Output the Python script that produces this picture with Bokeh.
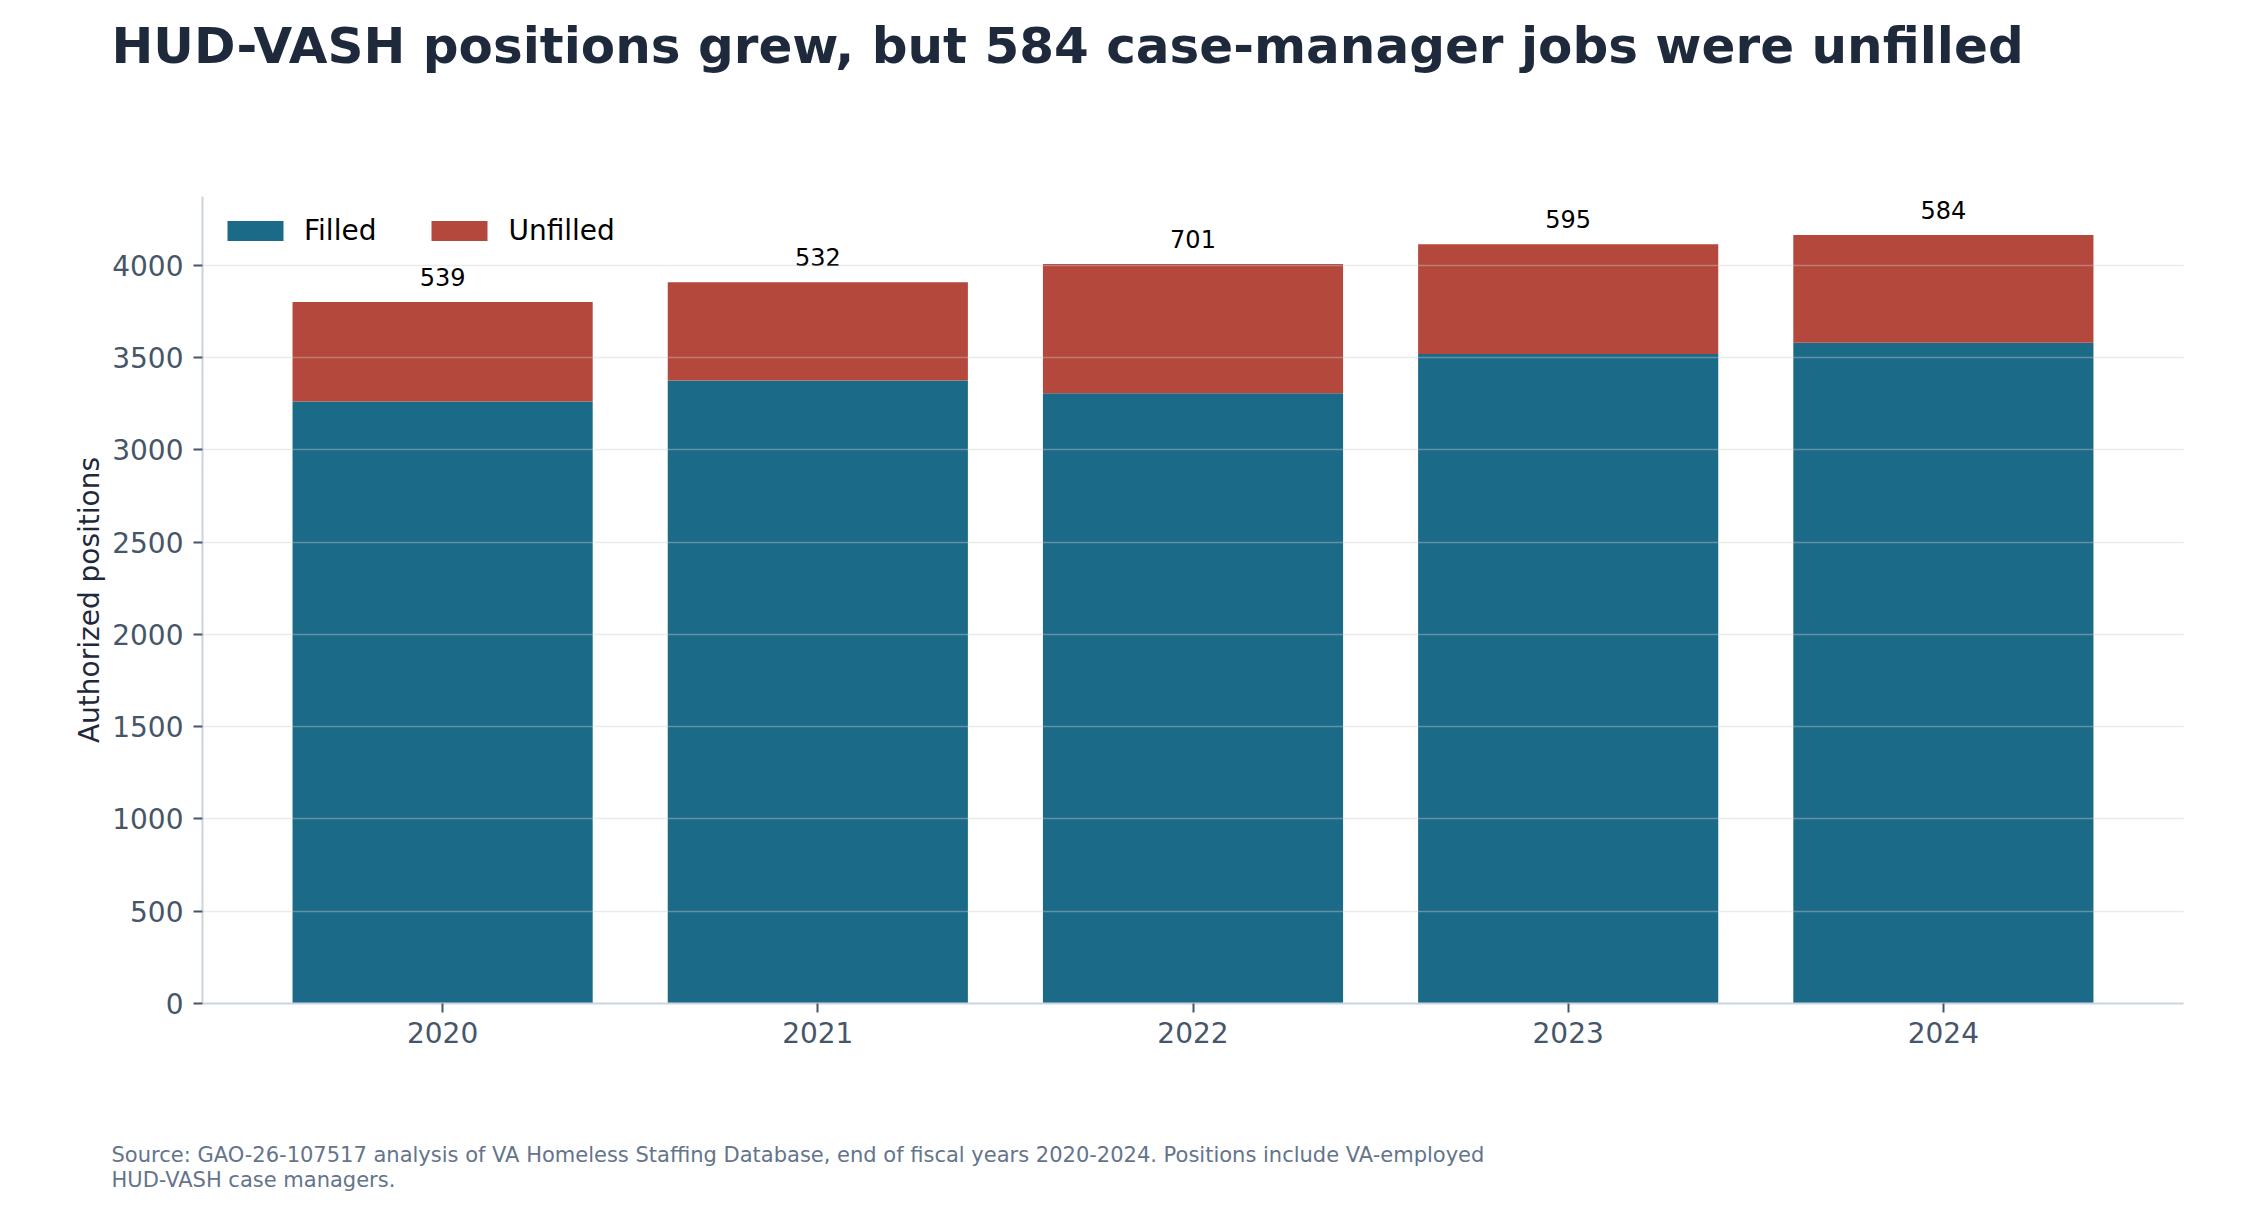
from bokeh.plotting import figure
from bokeh.layouts import column
from bokeh.models import (Range1d, Legend, LegendItem, ColumnDataSource, FixedTicker)
from bokeh.embed import file_html
from bokeh.resources import INLINE
from bokeh.core.properties import value

# ---- data ----
years = ["2020", "2021", "2022", "2023", "2024"]
filled = [3262, 3375, 3306, 3519, 3580]
unfilled = [539, 532, 701, 595, 584]
y_ticks = [0, 500, 1000, 1500, 2000, 2500, 3000, 3500, 4000]

title_text = "HUD-VASH positions grew, but 584 case-manager jobs were unfilled"
source_lines = [
    "Source: GAO-26-107517 analysis of VA Homeless Staffing Database, end of fiscal years 2020-2024. Positions include VA-employed",
    "HUD-VASH case managers.",
]

FONT = "DejaVu Sans"
TEAL = "#1b6a87"
RED = "#b5483c"
W = 2234


def text_panel(height):
    f = figure(width=W, height=height, output_backend="svg", toolbar_location=None,
               x_range=Range1d(0, W), y_range=Range1d(0, height),
               x_axis_location=None, y_axis_location=None, min_border=0)
    f.frame_align = False
    f.outline_line_color = None
    f.grid.visible = False
    f.border_fill_color = "white"
    return f


# ---- title panel ----
t = text_panel(100)
t.text(x=[111], y=[55], text=[title_text], text_align="left",
       text_baseline="alphabetic", text_font=value(FONT),
       text_font_size=value("50px"), text_font_style="bold", text_color="#1e293b")

# ---- main chart ----
xs = list(range(len(years)))
totals = [f + u for f, u in zip(filled, unfilled)]
src = ColumnDataSource(dict(x=xs, filled=filled, unfilled=unfilled, total=totals,
                            label=[str(u) for u in unfilled]))

p = figure(width=W, height=963, output_backend="svg", toolbar_location=None,
           x_range=Range1d(-0.64, 4.64), y_range=Range1d(0, max(totals) * 1.05),
           min_border_left=202, min_border_right=51, min_border_top=96,
           min_border_bottom=60)
p.outline_line_color = None
p.background_fill_color = "white"
p.border_fill_color = "white"

r_f = p.vbar(x="x", bottom=0, top="filled", width=0.8, source=src,
             fill_color=TEAL, line_color=None)
r_u = p.vbar(x="x", bottom="filled", top="total", width=0.8, source=src,
             fill_color=RED, line_color=None)

p.text(x="x", y="total", text="label", source=src, text_align="center",
       text_baseline="alphabetic", y_offset=-25,
       text_font=value(FONT), text_font_size=value("24px"), text_color="black")

for ax in (p.xaxis[0], p.yaxis[0]):
    ax.axis_line_color = "#cbd5e1"
    ax.axis_line_width = 2
    ax.major_tick_line_color = "#475569"
    ax.major_tick_line_width = 2
    ax.major_tick_out = 9
    ax.major_tick_in = 0
    ax.minor_tick_line_color = None
    ax.major_label_text_font = FONT
    ax.major_label_text_font_size = "28px"
    ax.major_label_text_color = "#475569"

p.xaxis.ticker = FixedTicker(ticks=xs)
p.xaxis.major_label_overrides = {i: y for i, y in zip(xs, years)}
p.xaxis.major_label_standoff = 9

p.yaxis.ticker = FixedTicker(ticks=y_ticks)
p.yaxis.major_label_standoff = 10
p.yaxis.axis_label = "Authorized positions"
p.yaxis.axis_label_text_font = FONT
p.yaxis.axis_label_text_font_size = "28px"
p.yaxis.axis_label_text_font_style = "normal"
p.yaxis.axis_label_text_color = "#1e293b"
p.yaxis.axis_label_standoff = 3

p.xgrid.visible = False
p.ygrid.grid_line_color = "#cccccc"
p.ygrid.grid_line_alpha = 0.4
p.ygrid.grid_line_width = 1.7
p.ygrid.level = "annotation"

legend = Legend(items=[LegendItem(label="Filled", renderers=[r_f]),
                       LegendItem(label="Unfilled", renderers=[r_u])],
                location="top_left", orientation="horizontal",
                glyph_width=70, glyph_height=25, label_standoff=14, spacing=48,
                margin=18, padding=0, border_line_color=None,
                background_fill_alpha=0, label_text_font=FONT,
                label_text_font_size="28px", label_text_color="black")
p.add_layout(legend)

# ---- source panel ----
s = text_panel(153)
s.text(x=[111, 111], y=[61.8, 36.5], text=source_lines, text_align="left",
       text_baseline="alphabetic", text_font=value(FONT),
       text_font_size=value("21px"), text_color="#64748b")

layout = column(t, p, s, spacing=0)
open("out.html", "w").write(file_html(layout, INLINE))
